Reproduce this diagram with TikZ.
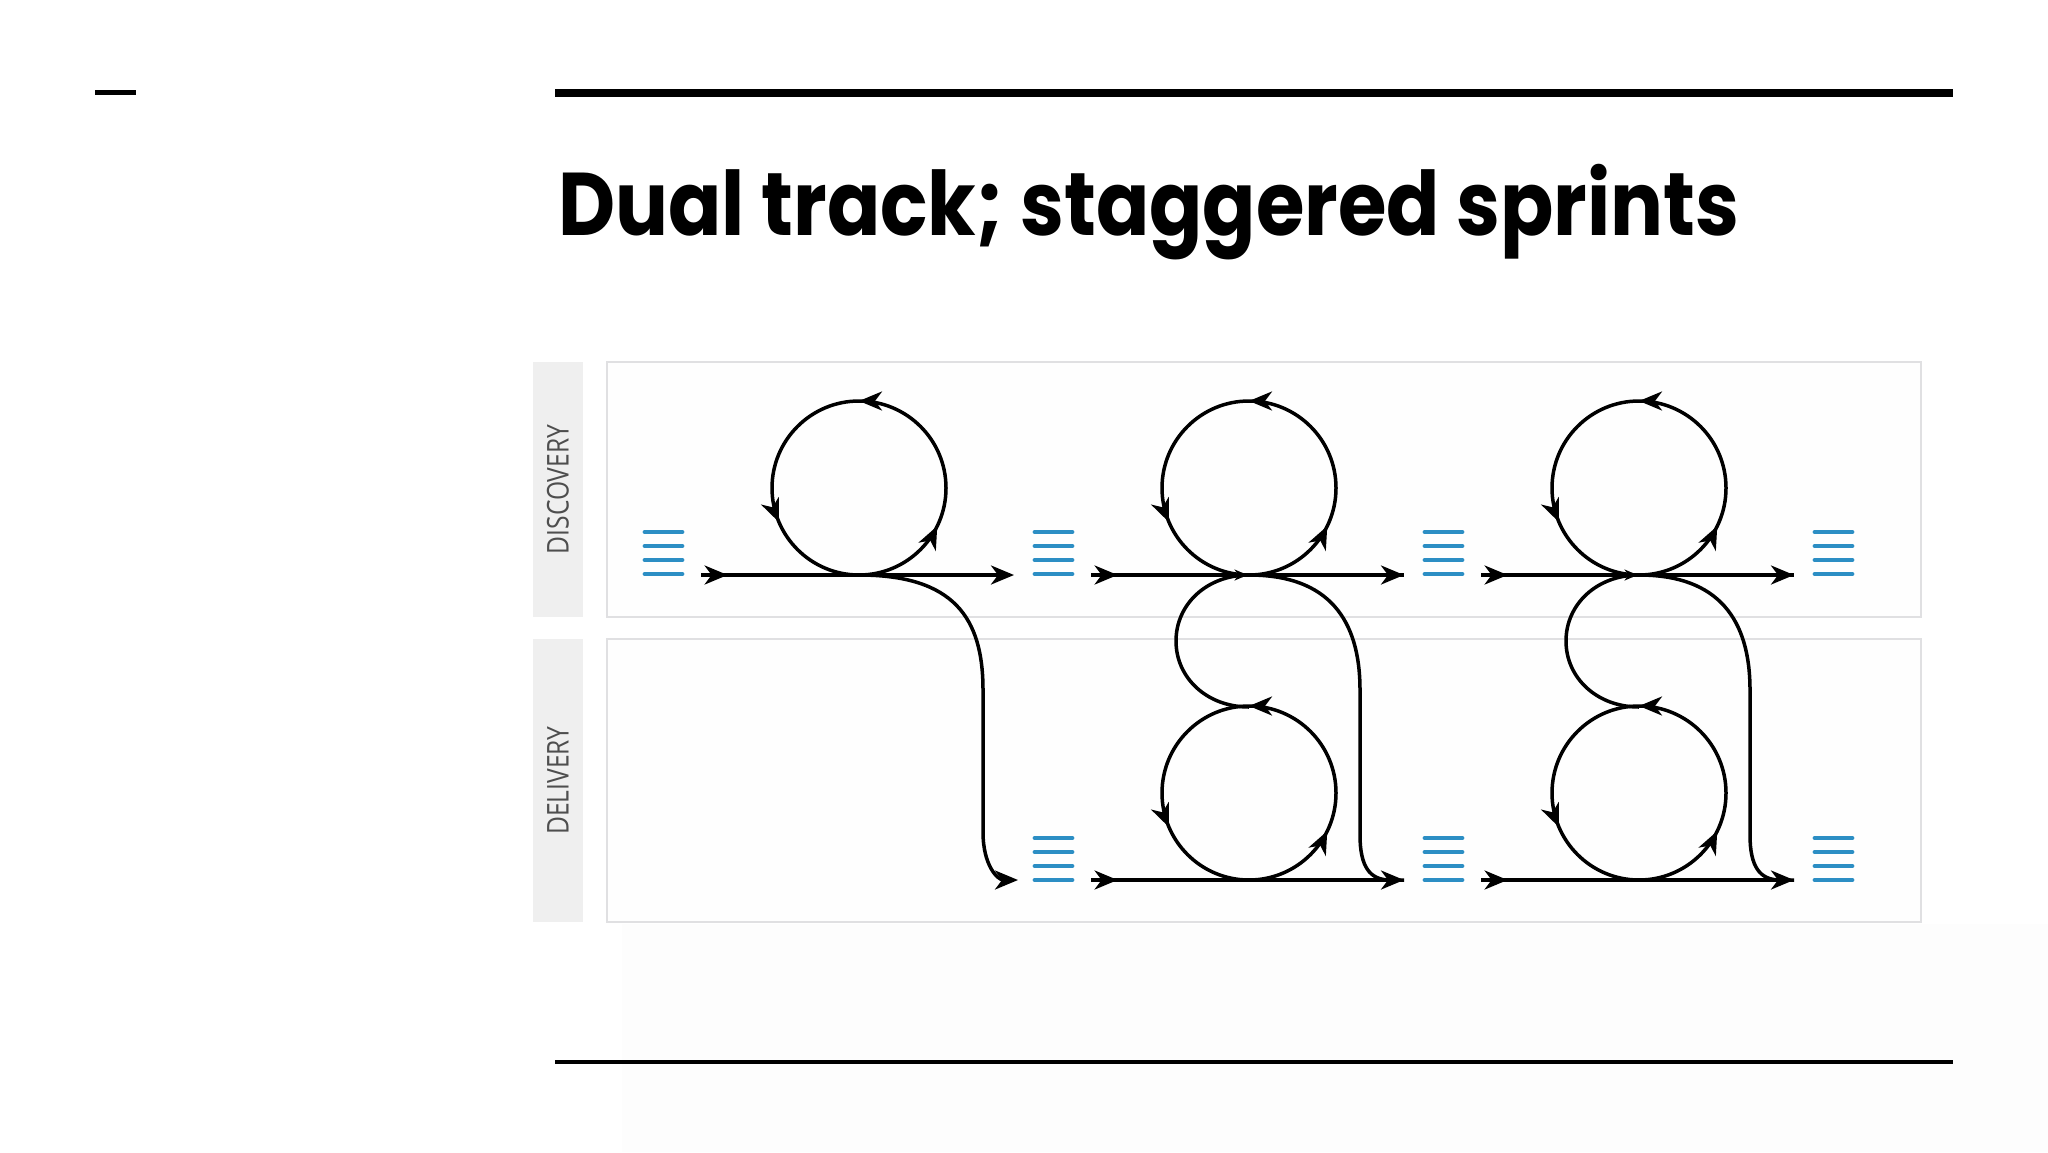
\documentclass[tikz,border=0pt]{standalone}
\usepackage{fontspec}
\setmainfont{Poppins}
\newfontfamily\tagfont{Open Sans}
\usetikzlibrary{arrows.meta,decorations.markings}
\definecolor{iconblue}{HTML}{2C8EC4}
\definecolor{lanefill}{HTML}{FEFEFE}
\definecolor{laneedge}{HTML}{E0E0E2}
\definecolor{tagfill}{HTML}{EFEFEF}
\definecolor{tagtext}{HTML}{4E4E4E}
\definecolor{faint}{HTML}{FDFDFD}
\tikzset{
  flow/.style={line width=3.5pt, black},
  bigtip/.tip={Stealth[length=23pt,width=19pt,inset=7pt]},
  smalltip/.tip={Stealth[length=13pt,width=11pt,inset=4pt]},
  arrowat/.style={postaction={decorate,decoration={markings,
      mark=at position #1 with {\arrow{bigtip}}}}},
  smallarrowat/.style={postaction={decorate,decoration={markings,
      mark=at position #1 with {\arrow{smalltip}}}}},
  looparrows/.style={postaction={decorate,decoration={markings,
      mark=at position 0.178 with {\arrow{bigtip}},
      mark=at position 0.5 with {\arrow{bigtip}},
      mark=at position 0.814 with {\arrow{bigtip}}}}},
  tagbox/.style={fill=tagfill, draw=none, minimum width=50pt, inner sep=0pt,
      font=\tagfont\fontsize{30}{32}\selectfont, text=tagtext},
  lanebox/.style={fill=lanefill, draw=laneedge, line width=1.8pt,
      minimum width=1314pt, inner sep=0pt},
  rule/.style={black, line cap=butt},
  iconline/.style={iconblue, line width=4.8pt, line cap=round},
  backlog/.pic={\foreach \j in {0,1,2,3} \draw[iconline] (0,14*\j) -- (37,14*\j);}
}
\begin{document}
\begin{tikzpicture}[x=1pt,y=-1pt]
\useasboundingbox (0,0) rectangle (2048,1152);
\fill[white] (0,0) rectangle (2048,1152);
\fill[faint] (622,924) rectangle (2048,1152);

% rules
\coordinate (dashA) at (95,92);
\coordinate (dashB) at (136,92);
\draw[rule, line width=5pt] (dashA) -- (dashB);
\coordinate (topA) at (555,93);
\coordinate (topB) at (1953,93);
\draw[rule, line width=8pt] (topA) -- (topB);
\coordinate (botA) at (555,1062);
\coordinate (botB) at (1953,1062);
\draw[rule, line width=4pt] (botA) -- (botB);

% title
\node[anchor=base west, inner sep=0pt, font=\fontsize{89}{96}\selectfont\bfseries] (title) at (558,235)
  {\scalebox{0.883}[1]{Dual track; staggered sprints}};

% lanes and tags
\node[tagbox, minimum height=255pt] (discTag) at (558,489.5)
  {\rotatebox{90}{\scalebox{0.82}[1]{DISCOVERY}}};
\node[tagbox, minimum height=283pt] (delTag) at (558,780.5)
  {\rotatebox{90}{\scalebox{0.82}[1]{DELIVERY}}};
\node[lanebox, minimum height=255pt] (discLane) at (1264,489.5) {};
\node[lanebox, minimum height=283pt] (delLane) at (1264,780.5) {};

% backlog icons
\foreach \k in {0,1,2,3} {
  \pic at (645+390*\k,532) {backlog};
}
\foreach \k in {1,2,3} {
  \pic at (645+390*\k,838) {backlog};
}

% sprints
\foreach \k in {0,1,2} {
  \pgfmathsetmacro{\X}{390*\k}
  \coordinate (uS\k) at (701+\X,575);
  \coordinate (uE\k) at (1014+\X,575);
  \coordinate (uC\k) at (859+\X,488);
  \coordinate (uT\k) at (859+\X,575);
  \draw[flow, arrowat=0.085, -{bigtip}] (uS\k) -- (uE\k);
  \draw[flow, looparrows] (uT\k) arc[start angle=90, end angle=-270, radius=87];
}
\foreach \k in {1,2} {
  \pgfmathsetmacro{\X}{390*\k}
  \coordinate (lS\k) at (701+\X,880);
  \coordinate (lE\k) at (1014+\X,880);
  \coordinate (lT\k) at (859+\X,880);
  \coordinate (lTop\k) at (859+\X,707);
  \draw[flow, smallarrowat=0.5] (uS\k) -- (uE\k);
  \draw[flow, arrowat=0.085, -{bigtip}] (lS\k) -- (lE\k);
  \draw[flow, looparrows] (lT\k) arc[start angle=90, end angle=-270, radius=87];
  % S-curve from discovery to delivery loop
  \draw[flow] (uT\k) .. controls +(-42,0) and +(0,-37) .. (786+\X,641)
              .. controls +(0,37) and +(-42,0) .. (lTop\k);
  % hand-off curve
  \draw[flow] (uT\k) .. controls +(80,0) and +(0,-70) .. (970+\X,690)
              -- (970+\X,835) .. controls +(0,32) and +(-20,0) .. (1000+\X,880) -- (lE\k);
}
% first hand-off
\coordinate (h0) at (1018,880);
\draw[flow, -{bigtip}] (uT0) .. controls +(95,0) and +(0,-72) .. (983,690)
     -- (983,832) .. controls +(0,34) and +(-20,0) .. (h0);
\end{tikzpicture}
\end{document}
